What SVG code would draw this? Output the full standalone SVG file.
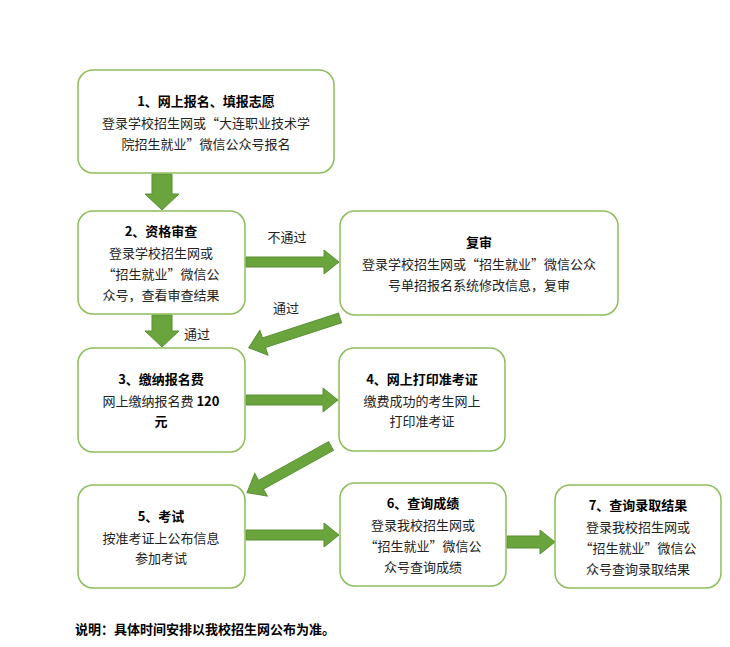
<svg xmlns="http://www.w3.org/2000/svg" width="730" height="647" viewBox="0 0 730 647">
<style>
.box{fill:#fff;stroke:#8cbd5b;stroke-width:1.5}
.arr{fill:#6aa43d;stroke:#5a8f33;stroke-width:1}
text{font-family:"Noto Sans CJK SC","Liberation Sans",sans-serif;font-size:13px;fill:#222;text-anchor:middle}
.b{font-weight:bold;fill:#000}
.l{font-size:12.5px}
</style>
<rect width="730" height="647" fill="#fff"/>
<g id="connectors">
<path class="arr" transform="translate(162,174) rotate(90)" d="M0,-10 H20 V-17 L36,0 L20,17 V10 H0 Z"/>
<path class="arr" transform="translate(162,315) rotate(90)" d="M0,-10 H16 V-17 L32,0 L16,17 V10 H0 Z"/>
<path class="arr" transform="translate(246,262)" d="M0,-5 H78 V-12 L93,0 L78,12 V5 H0 Z"/>
<path class="arr" transform="translate(340,318) rotate(162)" d="M0,-5 H80 V-13 L96,0 L80,13 V5 H0 Z"/>
<path class="arr" transform="translate(246,400)" d="M0,-5 H77 V-12 L92,0 L77,12 V5 H0 Z"/>
<path class="arr" transform="translate(331,446) rotate(151)" d="M0,-5 H80 V-13 L96,0 L80,13 V5 H0 Z"/>
<path class="arr" transform="translate(246,535)" d="M0,-5 H78 V-12 L93,0 L78,12 V5 H0 Z"/>
<path class="arr" transform="translate(507,542)" d="M0,-6 H33 V-12 L48,0 L33,12 V6 H0 Z"/>
<text x="287" y="242">不通过</text>
<text x="286" y="313">通过</text>
<text x="197" y="339">通过</text>
</g>
<g id="n1"><rect class="box" x="78" y="70" width="256" height="103" rx="15"/>
<text class="b" x="206" y="106">1、网上报名、填报志愿</text>
<text x="206" y="128">登录学校招生网或“大连职业技术学</text>
<text x="206" y="149">院招生就业”微信公众号报名</text></g>
<g id="n2"><rect class="box" x="78" y="211" width="167" height="103" rx="15"/>
<text class="b" x="161" y="236">2、资格审查</text>
<text x="161" y="258">登录学校招生网或</text>
<text x="161" y="279">“招生就业”微信公</text>
<text x="161" y="300">众号，查看审查结果</text></g>
<g id="nf"><rect class="box" x="340" y="211" width="278" height="104" rx="15"/>
<text class="b" x="479" y="247">复审</text>
<text x="479" y="269">登录学校招生网或“招生就业”微信公众</text>
<text x="479" y="290">号单招报名系统修改信息，复审</text></g>
<g id="n3"><rect class="box" x="78" y="348" width="167" height="104" rx="15"/>
<text class="b" x="161" y="384">3、缴纳报名费</text>
<text x="161" y="406">网上缴纳报名费 <tspan class="b">120</tspan></text>
<text class="b" x="161" y="426">元</text></g>
<g id="n4"><rect class="box" x="339" y="348" width="166" height="103" rx="15"/>
<text class="b" x="422" y="384">4、网上打印准考证</text>
<text x="422" y="406">缴费成功的考生网上</text>
<text x="422" y="426">打印准考证</text></g>
<g id="n5"><rect class="box" x="78" y="485" width="167" height="103" rx="15"/>
<text class="b" x="161" y="521">5、考试</text>
<text x="161" y="543">按准考证上公布信息</text>
<text x="161" y="563">参加考试</text></g>
<g id="n6"><rect class="box" x="340" y="483" width="166" height="103" rx="15"/>
<text class="b" x="423" y="508">6、查询成绩</text>
<text x="423" y="530">登录我校招生网或</text>
<text x="423" y="551">“招生就业”微信公</text>
<text x="423" y="572">众号查询成绩</text></g>
<g id="n7"><rect class="box" x="555" y="485" width="166" height="103" rx="15"/>
<text class="b" x="638" y="510">7、查询录取结果</text>
<text x="638" y="532">登录我校招生网或</text>
<text x="638" y="553">“招生就业”微信公</text>
<text x="638" y="574">众号查询录取结果</text></g>
<text class="b" x="75" y="634" style="text-anchor:start">说明：具体时间安排以我校招生网公布为准。</text>
</svg>
